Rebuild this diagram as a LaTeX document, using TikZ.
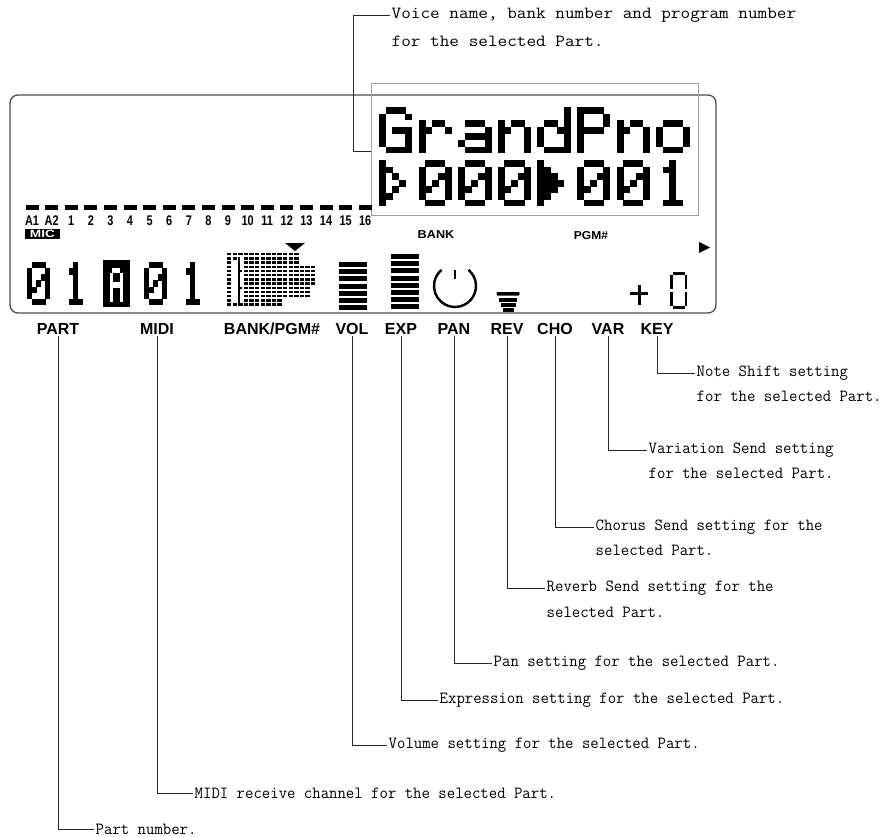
\documentclass[tikz,border=0pt]{standalone}
\usepackage{fontspec}
\setmainfont{Liberation Sans}
\newfontfamily\lblfont{Liberation Sans}
% dot-matrix helpers
\newcommand\dmpix[2]{\ifnum#2=1 \fill[\dmcol] ({\dmx+#1*\dmw},{\dmy+\dmr*\dmh}) rectangle ++({\dmw+0.3},{\dmh+0.3});\fi}
\newcommand\dmrowbits[5]{\dmpix{0}{#1}\dmpix{1}{#2}\dmpix{2}{#3}\dmpix{3}{#4}\dmpix{4}{#5}}
\newcommand\dmglyph[7]{\def\dmr{0}\dmrowbits#1\def\dmr{1}\dmrowbits#2\def\dmr{2}\dmrowbits#3\def\dmr{3}\dmrowbits#4\def\dmr{4}\dmrowbits#5\def\dmr{5}\dmrowbits#6\def\dmr{6}\dmrowbits#7}
\newcommand\dmat[3]{\def\dmx{#1}\def\dmy{#2}\expandafter\dmglyph#3}
\def\gG{{01110}{10001}{10000}{10111}{10001}{10001}{01111}}
\def\gr{{00000}{00000}{10110}{11001}{10000}{10000}{10000}}
\def\ga{{00000}{00000}{01110}{00001}{01111}{10001}{01111}}
\def\gn{{00000}{00000}{10110}{11001}{10001}{10001}{10001}}
\def\gd{{00001}{00001}{01101}{10011}{10001}{10001}{01111}}
\def\gP{{11110}{10001}{10001}{11110}{10000}{10000}{10000}}
\def\go{{00000}{00000}{01110}{10001}{10001}{10001}{01110}}
\def\gzero{{01110}{10001}{10011}{10101}{11001}{10001}{01110}}
\def\gone{{00100}{01100}{00100}{00100}{00100}{00100}{01110}}
\def\gtriO{{10000}{11000}{10100}{10010}{10100}{11000}{10000}}
\def\gtriF{{10000}{11000}{11100}{11110}{11100}{11000}{10000}}
\def\gA{{01110}{10001}{10001}{11111}{10001}{10001}{10001}}
\newcommand\notetxt[1]{\scalebox{0.96}[1]{#1}}
\newcommand\toptxt[1]{\scalebox{1.1}[1]{#1}}
\tikzset{
  conn/.style={draw=black!85, line width=0.85pt},
  lbl/.style={font=\lblfont\bfseries\fontsize{16}{18}\selectfont, inner sep=1.5pt},
  note/.style={font=\ttfamily\fontsize{17}{19}\selectfont, inner sep=1.5pt, anchor=west},
  chn/.style={font=\lblfont\bfseries\fontsize{14}{14}\selectfont, inner sep=0pt},
  smalllbl/.style={font=\lblfont\bfseries\fontsize{11.5}{12}\selectfont, inner sep=0pt},
  segline/.style={line width=2.8pt},
}
\begin{document}
\begin{tikzpicture}[x=1pt,y=-1pt]
\useasboundingbox (0,0) rectangle (891,837);
\fill[white] (0,0) rectangle (891,837);

% LCD frame
\draw[draw=black!70, line width=1.3pt, rounded corners=8pt] (10,95) rectangle (716,313);
% voice name frame
\node[draw=gray!75, line width=1pt, minimum width=327pt, minimum height=131pt, inner sep=0pt] (gbox) at (534.5,149.5) {};

% dot-matrix voice name
\def\dmcol{black}\def\dmw{6.6}\def\dmh{6.6}
\dmat{379}{107}{\gG}
\dmat{418.6}{107}{\gr}
\dmat{458.2}{107}{\ga}
\dmat{497.8}{107}{\gn}
\dmat{537.4}{107}{\gd}
\dmat{577}{107}{\gP}
\dmat{616.6}{107}{\gn}
\dmat{656.2}{107}{\go}
\dmat{379}{160}{\gtriO}
\dmat{418.6}{160}{\gzero}
\dmat{458.2}{160}{\gzero}
\dmat{497.8}{160}{\gzero}
\dmat{537.4}{160}{\gtriF}
\dmat{577}{160}{\gzero}
\dmat{616.6}{160}{\gzero}
\dmat{656.2}{160}{\gone}

% part channel indicators
\foreach \t [count=\i from 0] in {A1,A2,1,2,3,4,5,6,7,8,9,10,11,12,13,14,15,16} {
  \fill ({25.5+\i*19.6},205) rectangle ++(13,5);
  \node[chn] (ch\i) at ({32+\i*19.6},220.5) {\scalebox{0.78}[1]{\t}};
}
\node[fill=black, text=white, font=\lblfont\bfseries\fontsize{10.5}{10.5}\selectfont, inner sep=0pt, minimum width=35pt, minimum height=10pt] (mic) at (42.5,233.5) {\scalebox{1.3}[1]{MIC}};

\node[smalllbl] (bank) at (436,235) {\scalebox{1.1}[1]{BANK}};
\node[smalllbl] (pgm) at (591,236) {\scalebox{1.05}[1]{PGM\#}};

% part / midi digits
\def\dmw{4.6}\def\dmh{6.15}
\dmat{27}{262}{\gzero}
\dmat{64}{262}{\gone}
\fill (103,260) rectangle (129.5,307);
\dmat{144}{262}{\gzero}
\dmat{181}{262}{\gone}
\def\dmcol{white}\def\dmw{2.6}\def\dmh{4.8}
\dmat{109.6}{268}{\gA}
\def\dmcol{black}

% level meter
\fill (295,251) -- (285,243) -- (305,243) -- cycle;
\foreach \c/\ra/\rb in {0/0/12,3/0/12,4/0/12,5/0/12,6/0/12,7/0/12,8/0/12,9/0/12,10/0/10,11/0/10,12/0/10,13/3/10,14/3/10,15/3/7} {
  \foreach \r in {\ra,...,\rb} {
    \fill ({227+\c*5.6},{253+\r*4.2}) rectangle ++(4.4,2.4);
  }
}
\foreach \r in {0,1,12} { \fill (232.6,{253+\r*4.2}) rectangle ++(4.4,2.4); }
\foreach \r in {0,12} { \fill (238.2,{253+\r*4.2}) rectangle ++(4.4,2.4); }
\fill (238.2,257.2) rectangle (239.8,303.4);
\foreach \r in {4,8} { \fill (239.8,{253+\r*4.2}) rectangle ++(2.6,2.4); }

% VOL bars
\foreach \k in {0,...,6} { \fill (339,{262+\k*7.2}) rectangle ++(28,5); }
% EXP bars
\foreach \k in {0,...,7} { \fill (391,{254+\k*7.2}) rectangle ++(28,5); }
% PAN knob
\draw[line width=2.4pt] (455,286) ++(-50:21) arc[start angle=-50, end angle=230, radius=21];
\draw[line width=2.4pt] (455,270) -- (455,279);
% REV funnel
\fill[rounded corners=1pt] (496.5,292) rectangle (519.5,295.5);
\fill (499,298) rectangle (517,301.5);
\fill (500.5,303) rectangle (515.5,306.5);
\fill (502.5,308) rectangle (513.5,311.5);
% right arrow
\fill (699,242) -- (710,247.5) -- (699,253) -- cycle;
% + 0
\draw[line width=3pt] (630,293.5) -- (648,293.5);
\draw[line width=3pt] (639,285) -- (639,305);
\draw[segline] (672.5,273.4) -- (685,273.4);
\draw[segline] (671.4,275) -- (671.4,289);
\draw[segline] (686,275) -- (686,289);
\draw[segline] (671.4,292) -- (671.4,306);
\draw[segline] (686,292) -- (686,306);
\draw[segline] (672.5,307.4) -- (685,307.4);

% labels under LCD
\node[lbl] (lPART) at (58,329) {PART};
\node[lbl] (lMIDI) at (157,329) {MIDI};
\node[lbl] (lBANK) at (272,329) {BANK/PGM\#};
\node[lbl] (lVOL) at (352,329) {VOL};
\node[lbl] (lEXP) at (401,329) {EXP};
\node[lbl] (lPAN) at (454,329) {PAN};
\node[lbl] (lREV) at (507,329) {REV};
\node[lbl] (lCHO) at (555,329) {CHO};
\node[lbl] (lVAR) at (608,329) {VAR};
\node[lbl] (lKEY) at (657,329) {KEY};

% top annotation
\node[note] (tVoice) at (390,15) {\toptxt{Voice name, bank number and program number}};
\node[note] (tVoice2) at (390,41) {\toptxt{for the selected Part.}};
\coordinate (vbend) at (353,151);
\draw[conn] (tVoice.west) -| (vbend) -- (vbend -| gbox.west);

% bottom annotations
\node[note] (tKEY) at (695,373) {\notetxt{Note Shift setting}};
\node[note] (tKEY2) at (695,396) {\notetxt{for the selected Part.}};
\node[note] (tVAR) at (647,450) {\notetxt{Variation Send setting}};
\node[note] (tVAR2) at (647,473) {\notetxt{for the selected Part.}};
\node[note] (tCHO) at (594,527) {\notetxt{Chorus Send setting for the}};
\node[note] (tCHO2) at (594,550) {\notetxt{selected Part.}};
\node[note] (tREV) at (545,588) {\notetxt{Reverb Send setting for the}};
\node[note] (tREV2) at (545,612) {\notetxt{selected Part.}};
\node[note] (tPAN) at (492,663) {\notetxt{Pan setting for the selected Part.}};
\node[note] (tEXP) at (438,700) {\notetxt{Expression setting for the selected Part.}};
\node[note] (tVOL) at (387,745) {\notetxt{Volume setting for the selected Part.}};
\node[note] (tMIDI) at (193,793) {\notetxt{MIDI receive channel for the selected Part.}};
\node[note] (tPART) at (94,829) {\notetxt{Part number.}};

\draw[conn] (lKEY.south) |- (tKEY.west);
\draw[conn] (lVAR.south) |- (tVAR.west);
\draw[conn] (lCHO.south) |- (tCHO.west);
\draw[conn] (lREV.south) |- (tREV.west);
\draw[conn] (lPAN.south) |- (tPAN.west);
\draw[conn] (lEXP.south) |- (tEXP.west);
\draw[conn] (lVOL.south) |- (tVOL.west);
\draw[conn] (lMIDI.south) |- (tMIDI.west);
\draw[conn] (lPART.south) |- (tPART.west);
\end{tikzpicture}
\end{document}
